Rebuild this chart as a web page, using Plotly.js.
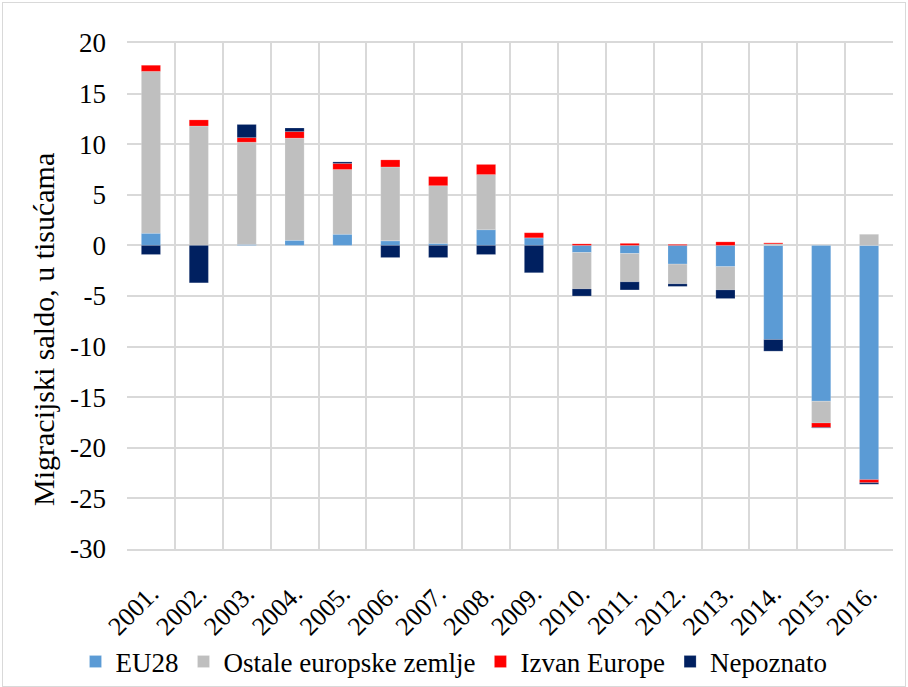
<!DOCTYPE html>
<html>
<head>
<meta charset="utf-8">
<script src="https://cdn.plot.ly/plotly-3.0.1.min.js"></script>
<style>
html,body{margin:0;padding:0;background:#fff;}
#wrap{position:relative;width:908px;height:687px;}
#chart{width:908px;height:687px;}
#frame{position:absolute;left:2px;top:2px;right:2px;bottom:0px;border:1px solid #d9d9d9;pointer-events:none;}
</style>
</head>
<body>
<div id="wrap"><div id="chart"></div><div id="frame"></div></div>
<script>
const years = ["2001.","2002.","2003.","2004.","2005.","2006.","2007.","2008.","2009.","2010.","2011.","2012.","2013.","2014.","2015.","2016."];
const eu28      = [1.2, 0.0, 0.1, 0.5, 1.1, 0.45, 0.2, 1.55, 0.75, -0.7, -0.8, -1.85, -2.1, -9.3, -15.4, -23.15];
const ostale    = [16.0, 11.8, 10.1, 10.1, 6.4, 7.3, 5.7, 5.45, 0.0, -3.6, -2.8, -1.95, -2.3, 0.15, -2.15, 1.1];
const izvan     = [0.6, 0.6, 0.45, 0.65, 0.6, 0.7, 0.9, 1.0, 0.5, 0.15, 0.2, 0.1, 0.35, 0.1, -0.45, -0.3];
const nepoznato = [-0.9, -3.7, 1.3, 0.35, 0.15, -1.2, -1.2, -0.9, -2.7, -0.7, -0.8, -0.25, -0.85, -1.15, -0.05, -0.15];

const yTickVals = [-30, -25, -20, -15, -10, -5, 0, 5, 10, 15, 20];
const yTickText = ["-30", "-25", "-20", "-15", "-10", "-5", "0", "5", "10", "15", "20"];
const yTitle = "Migracijski saldo, u tisućama";

const names = ["EU28", "Ostale europske zemlje", "Izvan Europe", "Nepoznato"];
const series = [eu28, ostale, izvan, nepoznato];
const colors = ["#5B9BD5", "#BFBFBF", "#FF0000", "#002060"];

const traces = series.map((s, i) => ({
  type: "bar",
  name: names[i],
  x: years,
  y: s,
  marker: {color: colors[i], line: {color: "rgba(255,255,255,0.35)", width: 0.5}},
  hoverinfo: "x+y+name"
}));

const font = "Liberation Serif, Times New Roman, serif";
const layout = {
  width: 908,
  height: 687,
  barmode: "relative",
  bargap: 0.6,
  margin: {l: 127, r: 15, t: 43, b: 138},
  paper_bgcolor: "#ffffff",
  plot_bgcolor: "#ffffff",
  font: {family: font, color: "#000000", size: 26},
  xaxis: {
    type: "category",
    tickson: "boundaries",
    showgrid: true,
    gridcolor: "#D9D9D9",
    gridwidth: 2,
    ticks: "",
    tickangle: -45,
    tickfont: {family: font, size: 26, color: "#000"},
    ticklabelstandoff: 17,
    showline: true,
    linecolor: "#D9D9D9",
    linewidth: 2,
    mirror: true,
    zeroline: false
  },
  yaxis: {
    range: [-30, 20],
    tickmode: "array",
    tickvals: yTickVals,
    ticktext: yTickText,
    showgrid: true,
    gridcolor: "#D9D9D9",
    gridwidth: 2,
    zeroline: false,
    ticks: "",
    tickfont: {family: font, size: 27, color: "#000"},
    ticklabelstandoff: 20
  },
  annotations: [{
    text: yTitle,
    xref: "paper", yref: "paper",
    x: (43 - 127) / 766, y: (549 - 330) / 506,
    xanchor: "center", yanchor: "middle",
    textangle: -90,
    showarrow: false,
    font: {family: font, size: 30, color: "#000"}
  }],
  legend: {
    orientation: "h",
    x: 0.5,
    xanchor: "center",
    xref: "container",
    y: 1 - 662 / 687,
    yref: "container",
    yanchor: "middle",
    font: {family: font, size: 27, color: "#000"},
    itemwidth: 30,
    traceorder: "normal"
  },
  showlegend: true
};

Plotly.newPlot("chart", traces, layout, {displayModeBar: false, staticPlot: true});
</script>
</body>
</html>
